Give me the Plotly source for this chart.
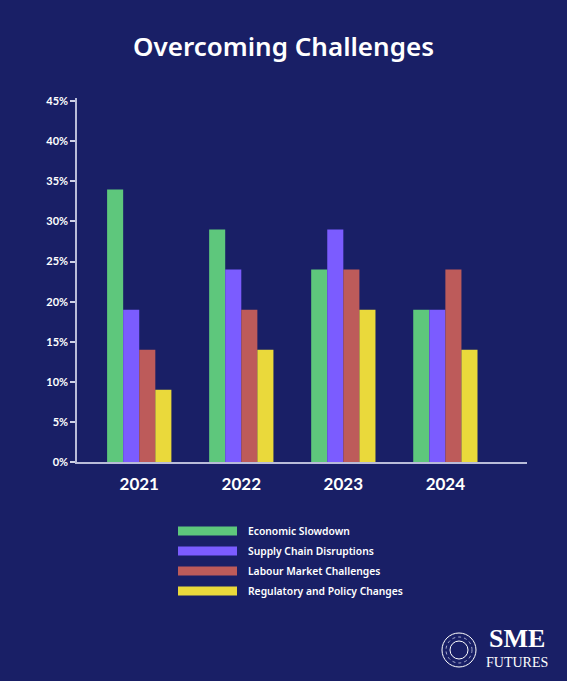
import plotly.graph_objects as go

years = ["2021", "2022", "2023", "2024"]
series_names = ["Economic Slowdown", "Supply Chain Disruptions",
                "Labour Market Challenges", "Regulatory and Policy Changes"]
economic = [34, 29, 24, 19]
supply = [19, 24, 29, 19]
labour = [14, 19, 24, 24]
regulatory = [9, 14, 19, 14]
series_values = [economic, supply, labour, regulatory]
colors = ["#5EC77C", "#7B5CFF", "#BD5B5A", "#EAD93B"]
y_ticks = [0, 5, 10, 15, 20, 25, 30, 35, 40, 45]
y_tick_labels = [f"{v}%" for v in y_ticks]

BG = "#191F66"
W, H = 567, 681
L, R, T, B = 77, 40, 98, 219
pw, ph = W - L - R, H - T - B

def px_x(x):
    return (x - L) / pw

def px_y(y):
    return (H - B - y) / ph

fig = go.Figure()
for name, vals, col in zip(series_names, series_values, colors):
    fig.add_trace(go.Bar(x=years, y=vals, name=name, marker=dict(color=col, line=dict(width=0)),
                         showlegend=False))

shapes = []
annotations = []
for i, (name, col) in enumerate(zip(series_names, colors)):
    cy = 531 + i * 20
    shapes.append(dict(type="rect", xref="paper", yref="paper",
                       x0=px_x(178), x1=px_x(237), y0=px_y(cy + 4.5), y1=px_y(cy - 4.5),
                       fillcolor=col, line=dict(width=0), layer="above"))
    annotations.append(dict(xref="paper", yref="paper", x=px_x(246), y=px_y(cy),
                            xanchor="left", yanchor="middle", showarrow=False,
                            text=name,
                            font=dict(family="Noto Sans", size=10.3, color="white", weight=600)))

# logo
shapes.append(dict(type="circle", xref="paper", yref="paper",
                   x0=px_x(442), x1=px_x(476), y0=px_y(667), y1=px_y(633),
                   line=dict(color="white", width=1)))
shapes.append(dict(type="circle", xref="paper", yref="paper",
                   x0=px_x(446), x1=px_x(472), y0=px_y(663), y1=px_y(637),
                   line=dict(color="#C9CCE6", width=0.8, dash="dot")))
shapes.append(dict(type="circle", xref="paper", yref="paper",
                   x0=px_x(450), x1=px_x(468), y0=px_y(659), y1=px_y(641),
                   line=dict(color="white", width=1)))
annotations.append(dict(xref="paper", yref="paper", x=px_x(517), y=px_y(638),
                        xanchor="center", yanchor="middle", showarrow=False,
                        text="<b>SME</b>",
                        font=dict(family="Liberation Serif", size=26, color="white")))
annotations.append(dict(xref="paper", yref="paper", x=px_x(517), y=px_y(662),
                        xanchor="center", yanchor="middle", showarrow=False,
                        text="FUTURES",
                        font=dict(family="Liberation Serif", size=14, color="white")))

fig.update_layout(
    width=W, height=H,
    paper_bgcolor=BG, plot_bgcolor=BG,
    margin=dict(l=L, r=R, t=T, b=B),
    barmode="group", bargap=0.37, bargroupgap=0,
    title=dict(text="Overcoming Challenges", x=0.5, xanchor="center",
               y=1 - 47 / H, yanchor="middle",
               font=dict(family="Noto Sans", size=26, color="white", weight=600)),
    xaxis=dict(type="category", range=[-0.61, 3.8], showgrid=False, zeroline=False,
               showline=True, linecolor="#B9BCD9", linewidth=1.5, ticks="",
               tickvals=years, ticktext=[f"<b>{y}</b>" for y in years],
               tickfont=dict(family="Lato", size=17, color="white"),
               ticklabelstandoff=6),
    yaxis=dict(range=[0, 45.4], tickvals=y_ticks, ticktext=[f"<b>{t}</b>" for t in y_tick_labels],
               showgrid=False, zeroline=False, showline=True, linecolor="#B9BCD9",
               linewidth=1.5, ticks="outside", ticklen=5, tickcolor="#D0D2E6", tickwidth=1.5,
               tickfont=dict(family="Lato", size=11, color="white")),
    shapes=shapes, annotations=annotations,
)

fig.write_html("out.html", config={"displayModeBar": False},
               post_script="document.body.style.margin='0';document.body.style.background='%s';" % BG)
